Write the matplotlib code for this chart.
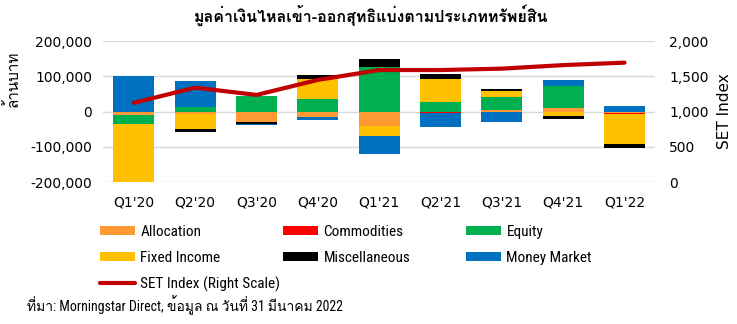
import matplotlib
matplotlib.use('Agg')
import matplotlib.pyplot as plt
import numpy as np

quarters = ["Q1'20", "Q2'20", "Q3'20", "Q4'20", "Q1'21", "Q2'21", "Q3'21", "Q4'21", "Q1'22"]
allocation = [-10000, -7000, -30000, -16000, -40000, -2000, 5000, 11000, -5000]
commodities = [0, 0, 0, 0, 0, -1500, 0, 0, -2000]
equity = [-25000, 14000, 45000, 35000, 128000, 27000, 37000, 62000, 0]
fixed_income = [-165000, -41000, 0, 57000, -28000, 66000, 16000, -13000, -85000]
misc = [0, -11000, -5000, 11000, 22000, 14000, 6000, -9000, -11000]
money_market = [101000, 73000, -4000, -9000, -53000, -40000, -30000, 18000, 16000]
set_index = [1125, 1340, 1237, 1450, 1590, 1590, 1610, 1660, 1695]

series = [('Allocation', allocation, '#FF9933'),
          ('Commodities', commodities, '#FF0000'),
          ('Equity', equity, '#00B050'),
          ('Fixed Income', fixed_income, '#FFC000'),
          ('Miscellaneous', misc, '#000000'),
          ('Money Market', money_market, '#0070C0')]

plt.rcParams['font.family'] = ['DejaVu Sans', 'Loma']
fig = plt.figure(figsize=(7.37, 3.24), dpi=100)
ax = fig.add_axes([0.140, 0.438, 0.749, 0.435])
x = np.arange(len(quarters))
pos = np.zeros(len(x))
neg = np.zeros(len(x))
handles = []
for name, vals, col in series:
    v = np.array(vals, dtype=float)
    bottom = np.where(v >= 0, pos, neg)
    b = ax.bar(x, v, 0.67, bottom=bottom, color=col, label=name, zorder=2)
    handles.append(b)
    pos = pos + np.where(v >= 0, v, 0)
    neg = neg + np.where(v < 0, v, 0)

ax.set_ylim(-200000, 200000)
ax.set_xlim(-0.5, len(x) - 0.5)
ax.set_yticks([-200000, -100000, 0, 100000, 200000])
ax.set_yticklabels(['-200,000', '-100,000', '0', '100,000', '200,000'])
ax.set_xticks(x)
ax.set_xticklabels(quarters)
ax.yaxis.grid(True, color='#D9D9D9', linewidth=1, zorder=0)
for s in ax.spines.values():
    s.set_visible(False)
ax.tick_params(length=0, labelsize=10, colors='#000000', pad=8)
ax.tick_params(axis='x', pad=10)
ax.set_ylabel('ล้านบาท', fontsize=11, family=['Loma', 'DejaVu Sans'])
ax.yaxis.set_label_coords(-0.15, 0.73)

ax2 = ax.twinx()
line, = ax2.plot(x, set_index, color='#C00000', linewidth=3,
                 label='SET Index (Right Scale)', zorder=5, solid_capstyle='round')
ax2.set_ylim(0, 2000)
ax2.set_yticks([0, 500, 1000, 1500, 2000])
ax2.set_yticklabels(['0', '500', '1,000', '1,500', '2,000'])
for s in ax2.spines.values():
    s.set_visible(False)
ax2.tick_params(length=0, labelsize=10, pad=10)
ax2.set_ylabel('SET Index', fontsize=11, labelpad=6)

# legend: three columns placed by hand, filled row by row like the original
leg_font = {'family': ['Roboto Condensed', 'DejaVu Sans'], 'size': 11}
columns = [([handles[0], handles[3], line], 100),
           ([handles[1], handles[4]], 283),
           ([handles[2], handles[5]], 466)]
for hs, px in columns:
    lg = fig.legend(hs, [h.get_label() for h in hs], loc='upper left',
                    bbox_to_anchor=(px / 737, 1 - 225 / 324), frameon=False,
                    prop=leg_font, handlelength=2.3, handleheight=0.55,
                    handletextpad=0.35, labelspacing=0.76, borderpad=0, borderaxespad=0)

fig.text(0.503, 0.953, 'มูลค่าเงินไหลเข้า-ออกสุทธิแบ่งตามประเภททรัพย์สิน', ha='center', va='center',
         fontsize=11.5, weight='bold', family=['Loma', 'DejaVu Sans'])
fig.text(27 / 737, 1 - 305 / 324, 'ที่มา: Morningstar Direct, ข้อมูล ณ วันที่ 31 มีนาคม 2022',
         va='center', fontsize=10, family=['Roboto Condensed', 'Loma'])

fig.savefig('out.png', dpi=100)
